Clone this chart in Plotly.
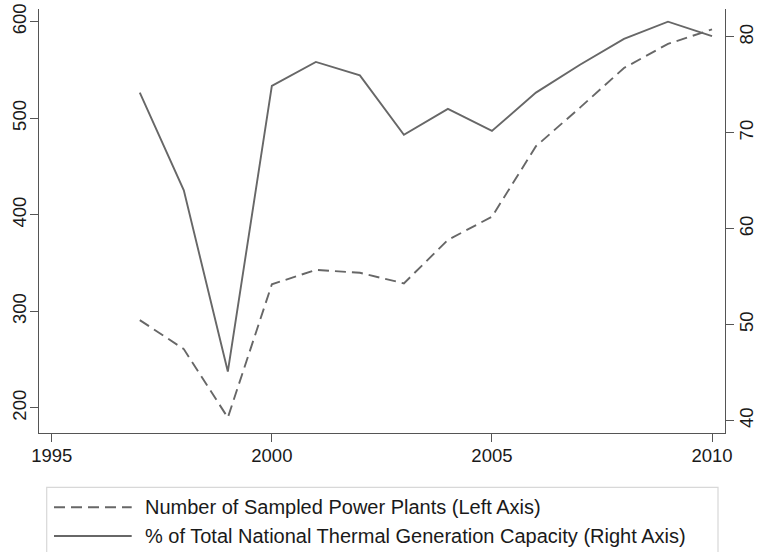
import plotly.graph_objects as go

years = [1997, 1998, 1999, 2000, 2001, 2002, 2003, 2004, 2005, 2006, 2007, 2008, 2009, 2010]
plants = [291, 261, 190, 328, 343, 340, 329, 374, 398, 471, 511, 552, 577, 592]
capacity = [74.2, 64.0, 45.1, 74.9, 77.4, 76.0, 69.8, 72.5, 70.2, 74.2, 77.1, 79.8, 81.6, 80.1]
names = ["Number of Sampled Power Plants (Left Axis)",
         "% of Total National Thermal Generation Capacity (Right Axis)"]
x_ticks = [1995, 2000, 2005, 2010]
left_ticks = [200, 300, 400, 500, 600]
right_ticks = [40, 50, 60, 70, 80]

W, H = 757, 552
ML, MR, MT, MB = 39, 32, 9, 119
PW, PH = W - ML - MR, H - MT - MB
LINE = "#676767"
AX = "#555555"
FONT = "Liberation Sans, Arial, sans-serif"
DASH = "11px,6px"


def px(xp):
    return (xp - ML) / PW


def py(yp):
    return (H - MB - yp) / PH


fig = go.Figure()
fig.add_trace(go.Scatter(x=years, y=plants, mode="lines", name=names[0],
                         line=dict(color=LINE, width=1.9, dash=DASH), yaxis="y"))
fig.add_trace(go.Scatter(x=years, y=capacity, mode="lines", name=names[1],
                         line=dict(color=LINE, width=1.9), yaxis="y2"))

axis_common = dict(showgrid=False, zeroline=False, showline=True, linecolor=AX, linewidth=1.3,
                   ticks="outside", ticklen=8, tickcolor=AX, tickwidth=1.3, automargin=False,
                   tickfont=dict(family=FONT, size=18.5, color="#1a1a1a"))

fig.update_layout(
    template="none",
    width=W, height=H,
    margin=dict(l=ML, r=MR, t=MT, b=MB, autoexpand=False),
    paper_bgcolor="white", plot_bgcolor="white",
    showlegend=False,
    xaxis=dict(range=[1994.71, 2010.295], tickvals=x_ticks, ticklabelstandoff=-2, **axis_common),
    yaxis=dict(range=[174.1, 613.1], tickvals=left_ticks, tickangle=-90,
               ticklabelstandoff=-4, **axis_common),
    yaxis2=dict(range=[38.69, 82.92], tickvals=right_ticks, tickangle=-90, overlaying="y",
                side="right", ticklabelstandoff=-3, **axis_common),
)

# legend box drawn as layout shapes/annotations
shapes = [dict(type="rect", xref="paper", yref="paper", x0=px(46.7), x1=px(718),
               y0=py(487.3), y1=py(575), line=dict(color="#d8d8d8", width=1.2),
               fillcolor="rgba(0,0,0,0)", layer="above")]
row_y = [507.3, 536.0]
dashes = [DASH, "solid"]
annotations = []
for i in range(2):
    shapes.append(dict(type="line", xref="paper", yref="paper", x0=px(54), x1=px(131.7),
                       y0=py(row_y[i]), y1=py(row_y[i]),
                       line=dict(color=LINE, width=1.9, dash=dashes[i])))
    annotations.append(dict(xref="paper", yref="paper", x=px(144), y=py(row_y[i]),
                            text=names[i], showarrow=False, xanchor="left", yanchor="middle",
                            xshift=-1,
                            font=dict(family=FONT, size=20, color="#1a1a1a")))
fig.update_layout(shapes=shapes, annotations=annotations)

fig.write_html("out.html")
